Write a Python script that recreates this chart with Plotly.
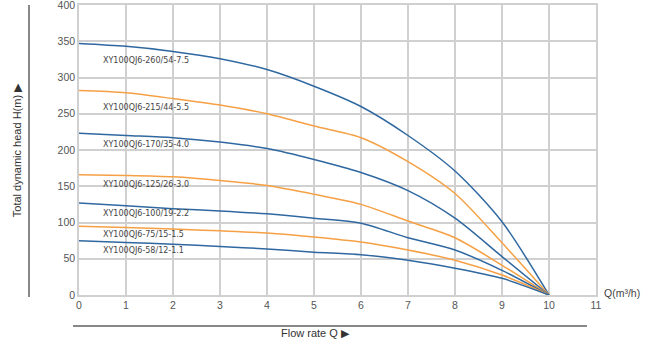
import plotly.graph_objects as go

flow = [0, 1, 2, 3, 4, 5, 6, 7, 8, 9, 10]

names = [
    "XY100QJ6-260/54-7.5",
    "XY100QJ6-215/44-5.5",
    "XY100QJ6-170/35-4.0",
    "XY100QJ6-125/26-3.0",
    "XY100QJ6-100/19-2.2",
    "XY100QJ6-75/15-1.5",
    "XY100QJ6-58/12-1.1",
]

head_260 = [347, 343, 336, 326, 311, 288, 260, 220, 171, 101, 0]
head_215 = [282, 279, 271, 262, 250, 233, 217, 184, 140, 72, 0]
head_170 = [223, 220, 217, 211, 202, 187, 169, 144, 106, 53, 0]
head_125 = [166, 165, 163, 158, 151, 139, 125, 102, 79, 41, 0]
head_100 = [127, 123, 119, 116, 112, 106, 99, 79, 62, 34, 0]
head_75 = [95, 93, 91, 88.5, 85.5, 80, 73, 62, 48, 27.5, 0]
head_58 = [75, 72.5, 70, 67, 63.5, 59, 55.5, 48, 37, 23, 0]

label_x = [0.47] * 7
label_y = [324, 258, 207, 153, 112, 84, 61]

x_ticks = list(range(0, 12))
y_ticks = list(range(0, 401, 50))

series = [head_260, head_215, head_170, head_125, head_100, head_75, head_58]
BLUE = "#2f68a0"
ORANGE = "#f6a045"
colors = [BLUE, ORANGE, BLUE, ORANGE, BLUE, ORANGE, BLUE]

fig = go.Figure()
for name, vals, c in zip(names, series, colors):
    fig.add_trace(go.Scatter(
        x=flow, y=vals, mode="lines", name=name,
        line=dict(color=c, width=1.5, shape="spline", smoothing=0.8),
        hoverinfo="x+y+name",
    ))

for name, lx, ly in zip(names, label_x, label_y):
    fig.add_annotation(x=lx, y=ly, xref="x", yref="y", text=name,
                       showarrow=False, xanchor="left", yanchor="middle",
                       font=dict(family="DejaVu Sans", size=8, color="#444444"))

GRID = "#d0d0d0"
fig.update_layout(
    width=646, height=355,
    margin=dict(l=79, r=49.5, t=5, b=60, autoexpand=False),
    paper_bgcolor="white", plot_bgcolor="white",
    showlegend=False,
    font=dict(family="Liberation Sans", color="#555555"),
    xaxis=dict(range=[0, 11], tickvals=x_ticks, showgrid=True, gridcolor=GRID, gridwidth=1.5,
               showline=True, linecolor=GRID, linewidth=1.5, mirror=True, zeroline=False,
               automargin=False, ticks="", ticklabeloverflow="allow",
               tickfont=dict(size=10.5, color="#555555")),
    yaxis=dict(range=[0, 400], tickvals=y_ticks, showgrid=True, gridcolor=GRID, gridwidth=1.5,
               showline=True, linecolor=GRID, linewidth=1.5, mirror=True, zeroline=False,
               automargin=False, ticks="", ticklabeloverflow="allow",
               tickfont=dict(size=10.5, color="#555555")),
)

# Axis titles and decorations
fig.add_annotation(x=-0.135, y=0.5, xref="paper", yref="paper",
                   text="Total dynamic head H(m) \u25B6", textangle=-90, showarrow=False,
                   font=dict(size=11, color="#333333"))
fig.add_annotation(x=0.4565, y=-0.159, xref="paper", yref="paper",
                   text="Flow rate Q \u25B6", showarrow=False,
                   font=dict(size=11, color="#333333"))
fig.add_annotation(x=1.0116, y=0.007, xref="paper", yref="paper",
                   text="Q(m\u00B3/h)", showarrow=False, xanchor="left", yanchor="middle",
                   font=dict(size=10.5, color="#444444"))
fig.add_shape(type="line", xref="paper", yref="paper", x0=-0.0967, x1=-0.0967, y0=-0.007, y1=1.0,
              line=dict(color="#888888", width=2))
fig.add_shape(type="line", xref="paper", yref="paper", x0=-0.0116, x1=0.9826, y0=-0.107, y1=-0.107,
              line=dict(color="#888888", width=2))

fig.write_html("out.html", config={"displayModeBar": False},
               post_script="document.body.style.margin='0';")
